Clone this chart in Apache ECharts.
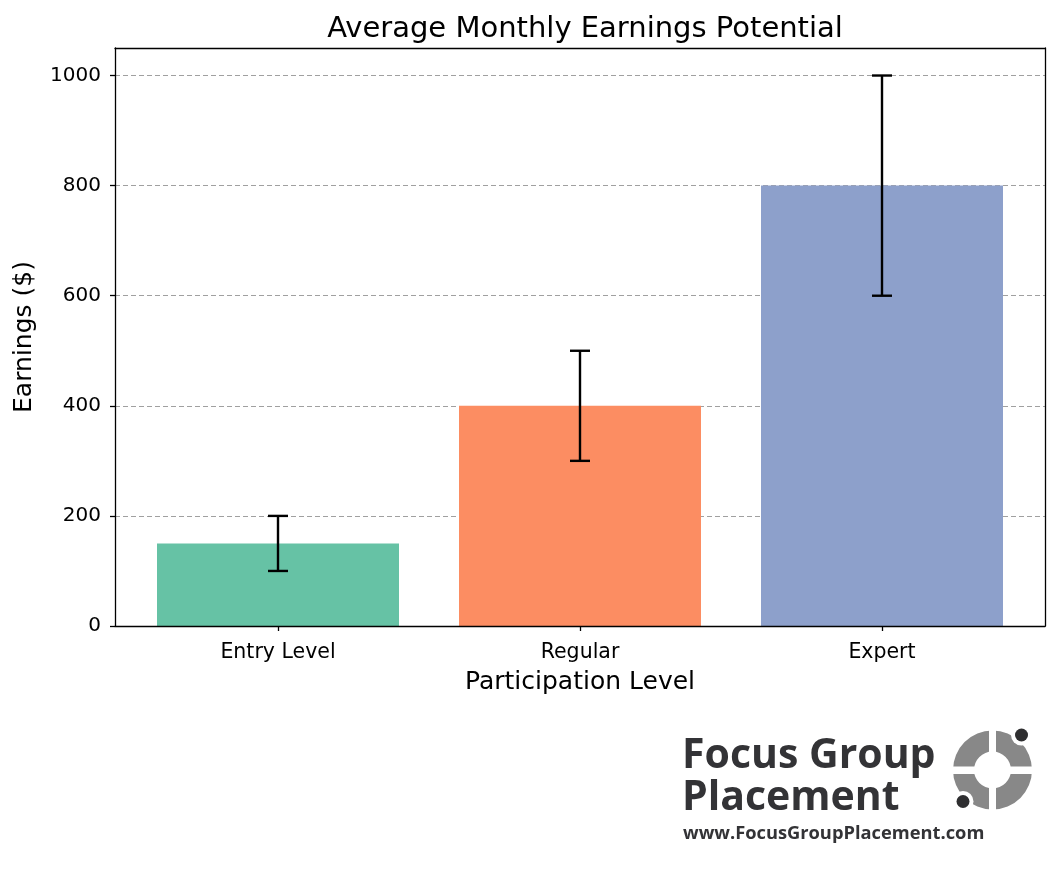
<!DOCTYPE html>
<html><head><meta charset="utf-8">
<script src="https://cdn.jsdelivr.net/npm/echarts@6/dist/echarts.min.js"></script>
<style>html,body{margin:0;padding:0;background:#fff}#c{width:1059px;height:869px}</style>
</head><body><div id="c"></div>
<script>
const categories = ['Entry Level', 'Regular', 'Expert'];
const earnings = [150, 400, 800];
const errLow = [100, 300, 600];
const errHigh = [200, 500, 1000];
const barColors = ['#66c2a5', '#fc8d62', '#8da0cb'];
const yTicks = [0, 200, 400, 600, 800, 1000];

const FONT = 'DejaVu Sans';
const chart = echarts.init(document.getElementById('c'), null, {renderer: 'canvas'});

const gridBox = {left: 115, top: 48, width: 930, height: 578};
const innerBox = {left: 127, top: 48, width: 906, height: 578};
const yMin = 0, yMax = 1050;

const option = {
  backgroundColor: '#fff',
  animation: false,
  title: {
    text: 'Average Monthly Earnings Potential',
    left: 580, top: 10, textAlign: 'center',
    textStyle: {fontFamily: FONT, fontSize: 29, fontWeight: 'normal', color: '#000'}
  },
  grid: [
    Object.assign({}, gridBox),
    Object.assign({}, innerBox)
  ],
  xAxis: [
    {gridIndex: 0, type: 'value', min: 0, max: 1, position: 'bottom', z: 10,
     axisLine: {show: true, lineStyle: {color: '#000', width: 1.3}},
     axisTick: {show: false}, axisLabel: {show: false}, splitLine: {show: false},
     name: 'Participation Level', nameLocation: 'middle', nameGap: 44,
     nameTextStyle: {fontFamily: FONT, fontSize: 25, color: '#000'}},
    {gridIndex: 0, type: 'value', min: 0, max: 1, position: 'top', z: 10,
     axisLine: {show: true, onZero: false, lineStyle: {color: '#000', width: 1.3}},
     axisTick: {show: false}, axisLabel: {show: false}, splitLine: {show: false}},
    {gridIndex: 1, type: 'category', data: categories, z: 10,
     axisLine: {show: false},
     axisTick: {show: true, alignWithLabel: true, length: 5, lineStyle: {color: '#000', width: 1.3}},
     axisLabel: {fontFamily: FONT, fontSize: 20.5, color: '#000', margin: 16},
     splitLine: {show: false}}
  ],
  yAxis: [
    {gridIndex: 0, type: 'value', min: yMin, max: yMax, interval: 200, z: 0,
     axisLine: {show: false}, axisTick: {show: false}, axisLabel: {show: false},
     splitLine: {show: true, lineStyle: {color: '#a0a0a0', type: [5, 3], width: 1.1}}},
    {gridIndex: 0, type: 'value', min: yMin, max: yMax, interval: 200, z: 10, position: 'left',
     axisLine: {show: true, lineStyle: {color: '#000', width: 1.3}},
     axisTick: {show: true, length: 5, lineStyle: {color: '#000', width: 1.3},
                customValues: yTicks},
     axisLabel: {fontFamily: FONT, fontSize: 20, color: '#000', margin: 14,
                 customValues: yTicks, formatter: v => String(v)},
     splitLine: {show: false},
     name: 'Earnings ($)', nameLocation: 'middle', nameGap: 78,
     nameTextStyle: {fontFamily: FONT, fontSize: 25, color: '#000'}},
    {gridIndex: 0, type: 'value', min: yMin, max: yMax, z: 10, position: 'right',
     axisLine: {show: true, lineStyle: {color: '#000', width: 1.3}},
     axisTick: {show: false}, axisLabel: {show: false}, splitLine: {show: false}},
    {gridIndex: 1, type: 'value', min: yMin, max: yMax, show: false}
  ],
  series: [
    {type: 'bar', xAxisIndex: 2, yAxisIndex: 3, barWidth: 242, z: 2,
     data: earnings.map((v, i) => ({value: v, itemStyle: {color: barColors[i]}}))},
    {type: 'custom', xAxisIndex: 2, yAxisIndex: 3, z: 5,
     data: categories.map((c, i) => [i, errLow[i], errHigh[i]]),
     renderItem: function (params, api) {
       const lo = api.coord([api.value(0), api.value(1)]);
       const hi = api.coord([api.value(0), api.value(2)]);
       const cap = 10;
       const st = {stroke: '#000', lineWidth: 2.4};
       return {type: 'group', children: [
         {type: 'line', shape: {x1: lo[0], y1: lo[1], x2: hi[0], y2: hi[1]}, style: st},
         {type: 'line', shape: {x1: lo[0] - cap, y1: lo[1], x2: lo[0] + cap, y2: lo[1]}, style: st},
         {type: 'line', shape: {x1: hi[0] - cap, y1: hi[1], x2: hi[0] + cap, y2: hi[1]}, style: st}
       ]};
     }}
  ],
  graphic: [
    {type: 'text', left: 682, top: 736, z: 100,
     style: {text: 'Focus Group', font: 'bold 41px "Open Sans"', fill: '#333336'}},
    {type: 'text', left: 682, top: 778, z: 100,
     style: {text: 'Placement', font: 'bold 41px "Open Sans"', fill: '#333336'}},
    {type: 'text', left: 683, top: 825, z: 100,
     style: {text: 'www.FocusGroupPlacement.com', font: 'bold 18.3px "Open Sans"', fill: '#333336'}},
    {type: 'group', z: 100, children: [
      {type: 'ring', shape: {cx: 992.5, cy: 770, r: 39.5, r0: 18.5}, style: {fill: '#888888'}, z: 100},
      {type: 'rect', shape: {x: 989, y: 728, width: 7, height: 84}, style: {fill: '#fff'}, z: 101},
      {type: 'rect', shape: {x: 950, y: 766.5, width: 85, height: 7.5}, style: {fill: '#fff'}, z: 101},
      {type: 'circle', shape: {cx: 1021.5, cy: 735, r: 10.5}, style: {fill: '#fff'}, z: 102},
      {type: 'circle', shape: {cx: 1021.5, cy: 735, r: 6.5}, style: {fill: '#2e2e30'}, z: 103},
      {type: 'circle', shape: {cx: 963, cy: 801.5, r: 10.5}, style: {fill: '#fff'}, z: 102},
      {type: 'circle', shape: {cx: 963, cy: 801.5, r: 6.5}, style: {fill: '#2e2e30'}, z: 103}
    ]}
  ]
};
chart.setOption(option);
</script>
</body></html>
